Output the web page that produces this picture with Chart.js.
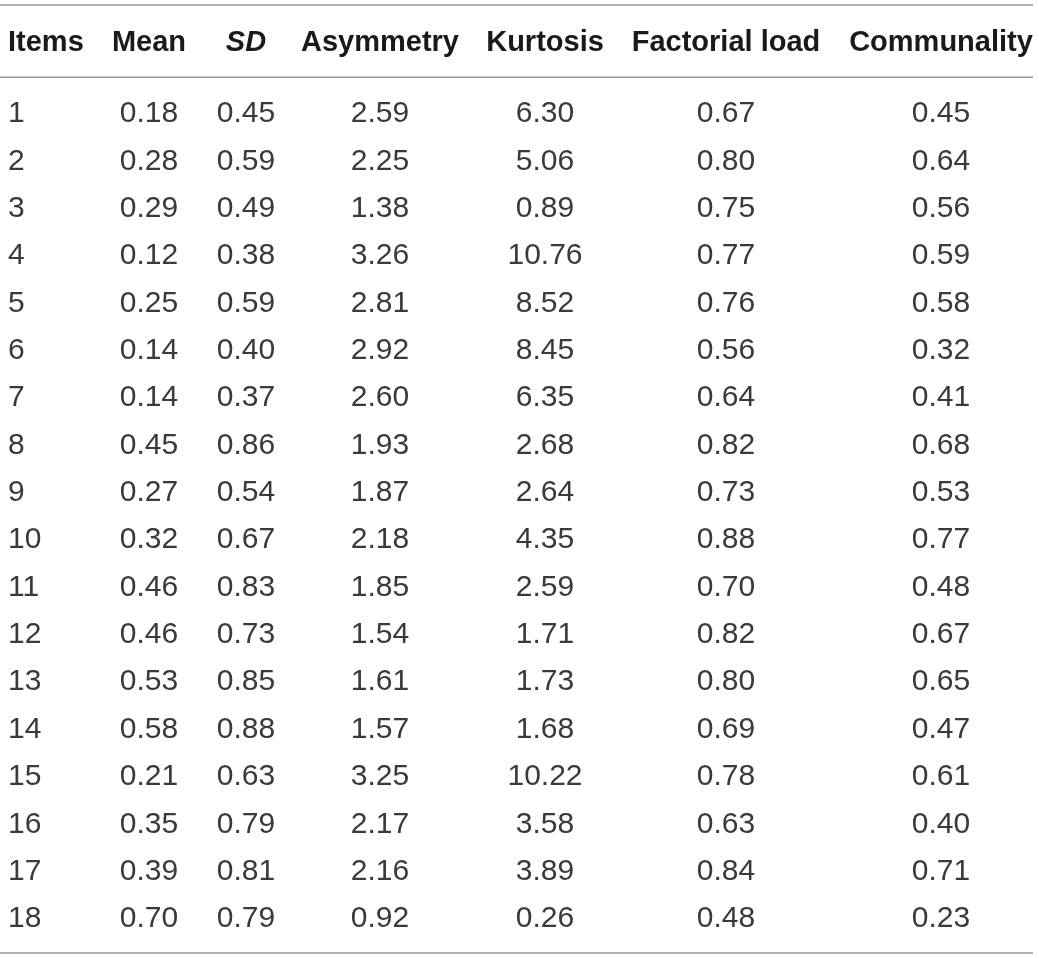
<!DOCTYPE html>
<html>
<head>
<meta charset="utf-8">
<script src="https://cdn.jsdelivr.net/npm/chart.js@4/dist/chart.umd.min.js"></script>
<style>
html,body{margin:0;padding:0;background:#fff;}
#wrap{width:1039px;height:958px;}
</style>
</head>
<body>
<div id="wrap"><canvas id="c" width="1039" height="958"></canvas></div>
<script>
// ---- data ----
const headers = ["Items", "Mean", "SD", "Asymmetry", "Kurtosis", "Factorial load", "Communality"];
const items = ["1","2","3","4","5","6","7","8","9","10","11","12","13","14","15","16","17","18"];
const mean = [0.18,0.28,0.29,0.12,0.25,0.14,0.14,0.45,0.27,0.32,0.46,0.46,0.53,0.58,0.21,0.35,0.39,0.70];
const sd = [0.45,0.59,0.49,0.38,0.59,0.40,0.37,0.86,0.54,0.67,0.83,0.73,0.85,0.88,0.63,0.79,0.81,0.79];
const asymmetry = [2.59,2.25,1.38,3.26,2.81,2.92,2.60,1.93,1.87,2.18,1.85,1.54,1.61,1.57,3.25,2.17,2.16,0.92];
const kurtosis = [6.30,5.06,0.89,10.76,8.52,8.45,6.35,2.68,2.64,4.35,2.59,1.71,1.73,1.68,10.22,3.58,3.89,0.26];
const factorialLoad = [0.67,0.80,0.75,0.77,0.76,0.56,0.64,0.82,0.73,0.88,0.70,0.82,0.80,0.69,0.78,0.63,0.84,0.48];
const communality = [0.45,0.64,0.56,0.59,0.58,0.32,0.41,0.68,0.53,0.77,0.48,0.67,0.65,0.47,0.61,0.40,0.71,0.23];

// ---- layout (positions/styles, separate from data) ----
const colX = [8, 149, 246, 380, 545, 726, 941];
const colAlign = ["left","center","center","center","center","center","center"];
const headerStyle = ["bold","bold","italic bold","bold","bold","bold","bold"];
const headerRow = -0.5;
const ruleRows = [-1.26, 0.265, 18.76];
const ruleX = [0, 1033];
const textDy = 2;

const columns = [items, mean, sd, asymmetry, kurtosis, factorialLoad, communality];

const datasets = [];
// header cells
datasets.push({
  label: "header",
  kind: "header",
  data: headers.map((h, c) => ({x: colX[c], y: headerRow, text: h, col: c})),
  pointRadius: 0, pointHoverRadius: 0, showLine: false
});
// body cells
columns.forEach((vals, c) => {
  datasets.push({
    label: headers[c],
    kind: "body",
    data: vals.map((v, r) => ({x: colX[c], y: r + 1, text: (c === 0 ? String(v) : Number(v).toFixed(2)), col: c})),
    pointRadius: 0, pointHoverRadius: 0, showLine: false
  });
});
// horizontal rules
ruleRows.forEach((ry, i) => {
  datasets.push({
    label: "rule" + i,
    kind: "rule",
    data: ruleX.map(x => ({x: x, y: ry})),
    showLine: true, borderColor: "#9a9a9a", borderWidth: 1.5,
    pointRadius: 0, pointHoverRadius: 0, fill: false
  });
});

const textPlugin = {
  id: "cellText",
  afterDatasetsDraw(chart) {
    const ctx = chart.ctx;
    chart.data.datasets.forEach((ds, di) => {
      if (ds.kind !== "header" && ds.kind !== "body") return;
      const meta = chart.getDatasetMeta(di);
      meta.data.forEach((pt, i) => {
        const d = ds.data[i];
        ctx.save();
        if (ds.kind === "header") {
          ctx.font = headerStyle[d.col] + " 29px 'Liberation Sans', Arial, sans-serif";
          ctx.fillStyle = "#1a1a1a";
        } else {
          ctx.font = "30px 'Liberation Sans', Arial, sans-serif";
          ctx.fillStyle = "#3a3a3a";
        }
        ctx.textAlign = colAlign[d.col];
        ctx.textBaseline = "middle";
        ctx.fillText(d.text, pt.x, pt.y + textDy);
        ctx.restore();
      });
    });
  }
};

new Chart(document.getElementById("c"), {
  type: "scatter",
  data: {datasets},
  options: {
    responsive: false,
    animation: false,
    layout: {padding: 0},
    plugins: {legend: {display: false}, tooltip: {enabled: false}},
    events: [],
    scales: {
      x: {type: "linear", display: false, min: 0, max: 1039},
      y: {type: "linear", display: false, reverse: true, min: 1 - 112/47.35, max: 1 + 846/47.35}
    }
  },
  plugins: [textPlugin]
});
</script>
</body>
</html>
